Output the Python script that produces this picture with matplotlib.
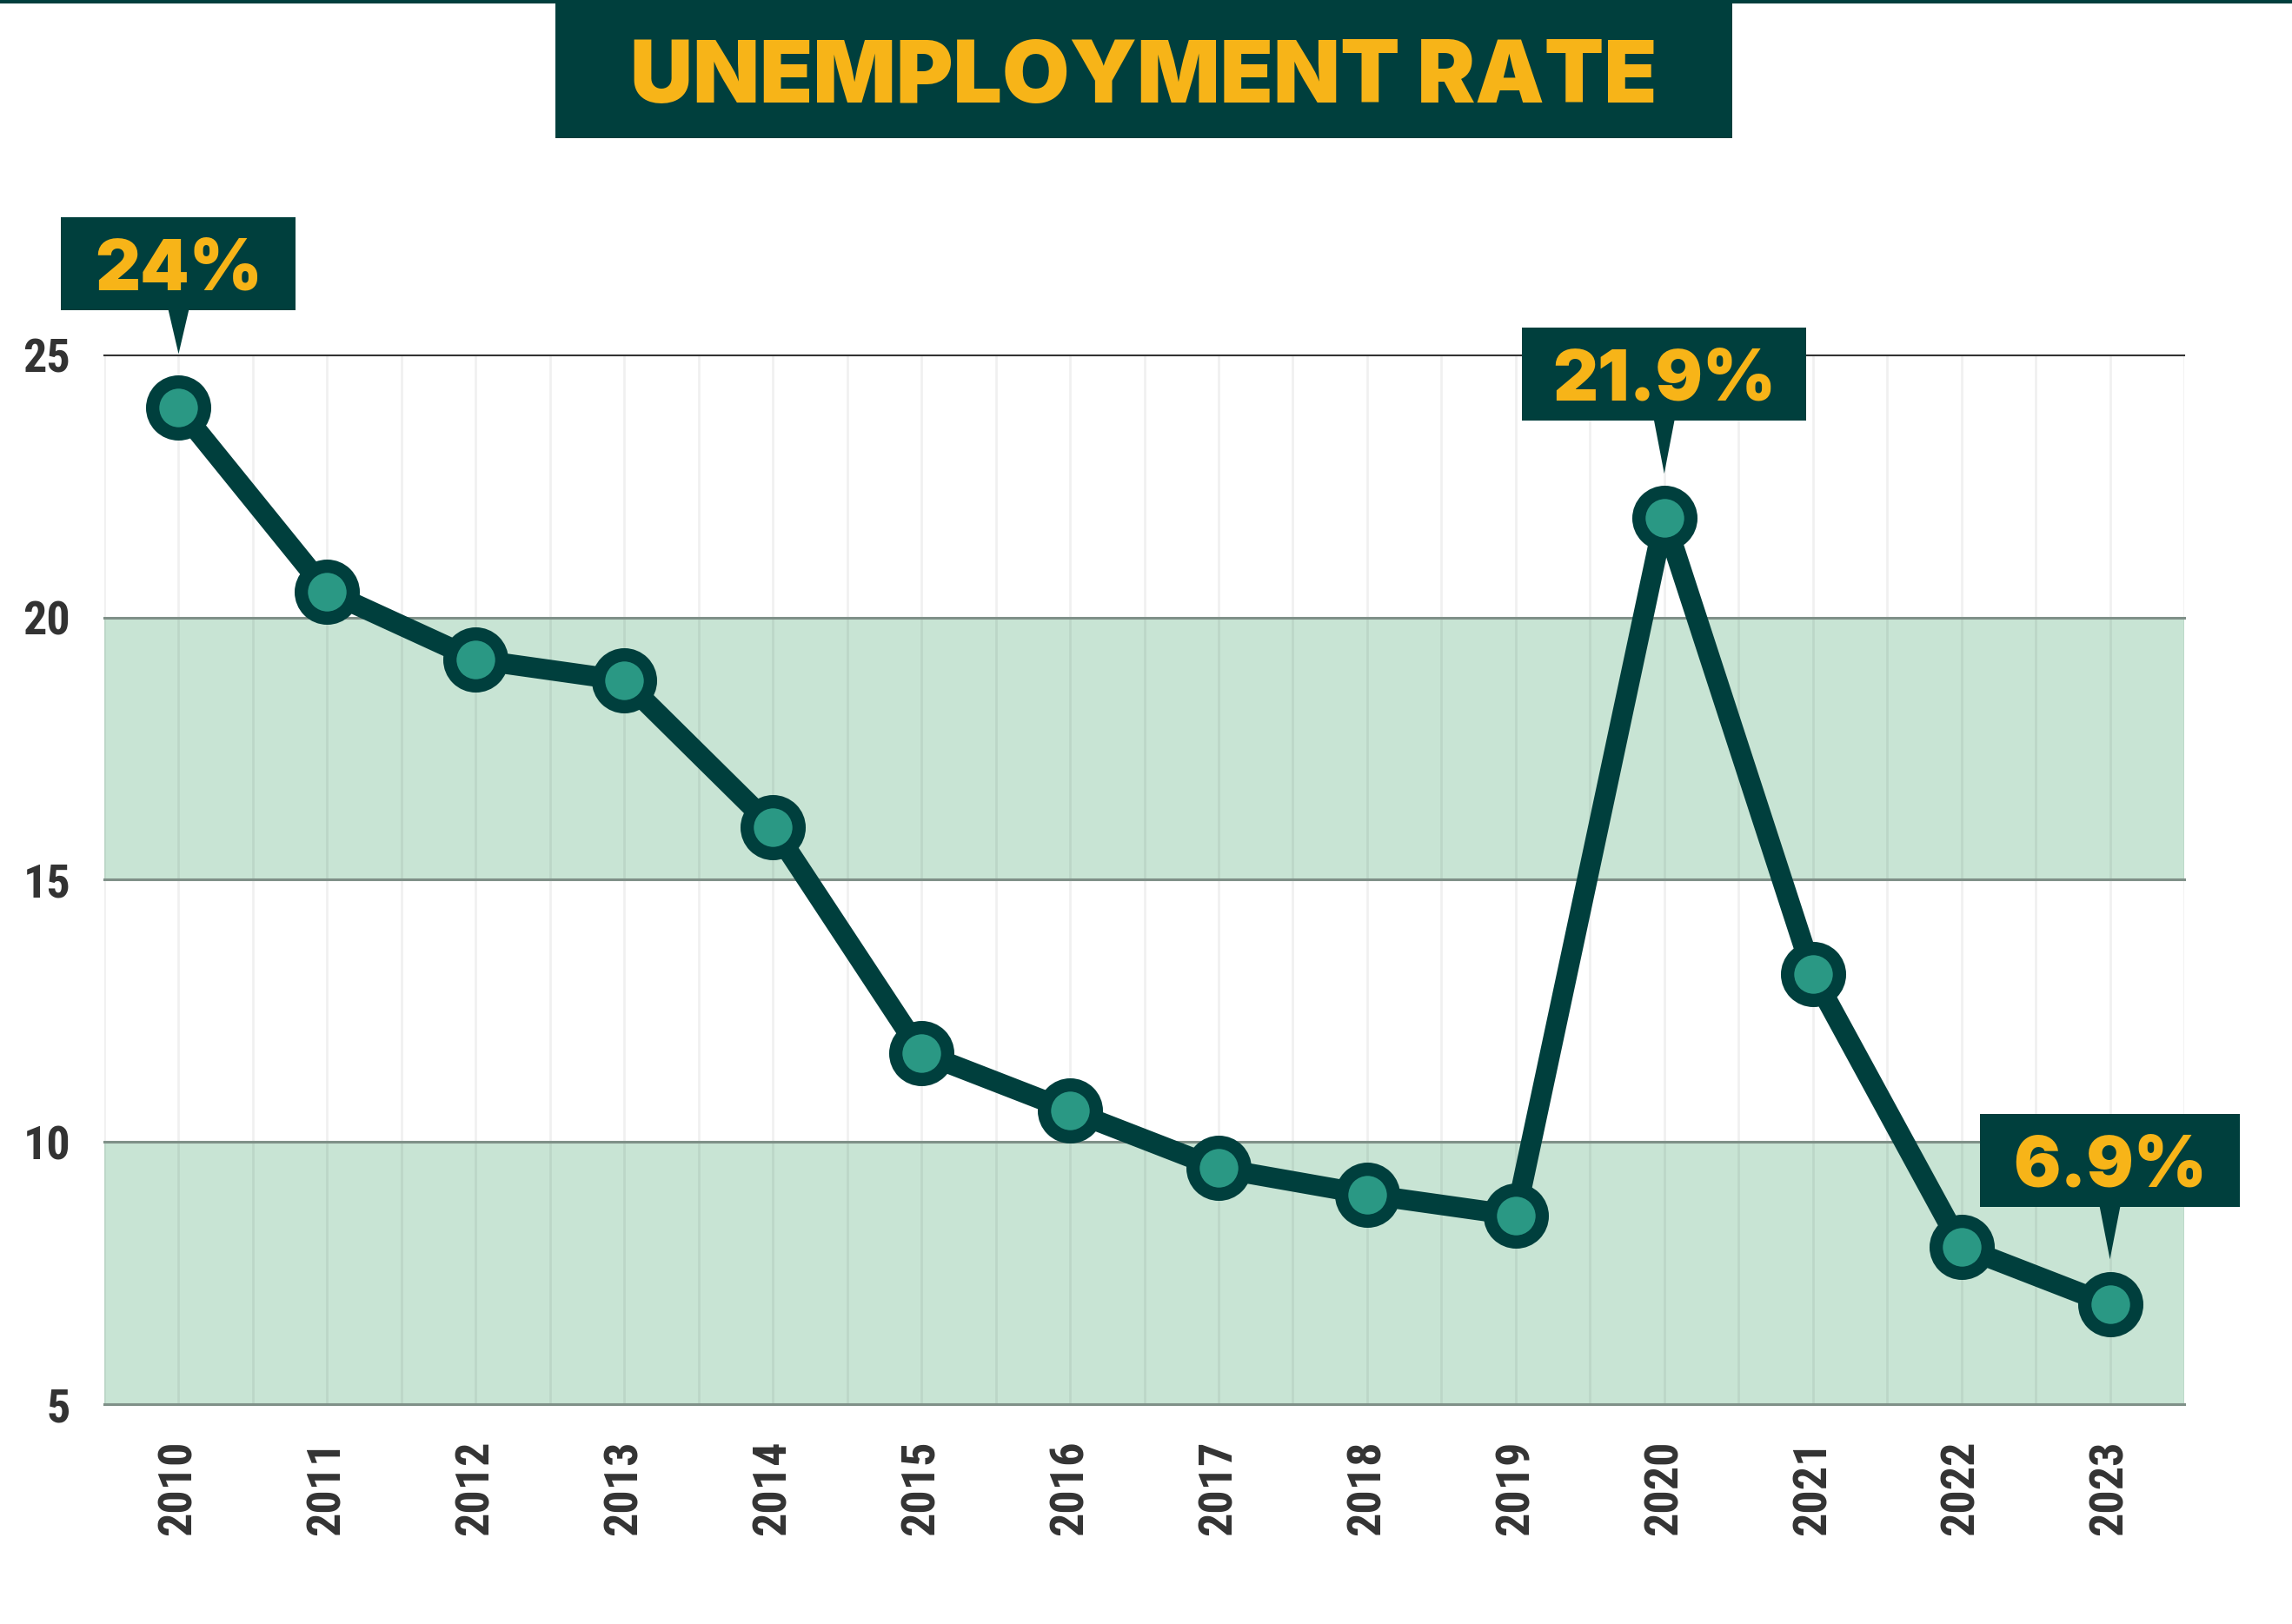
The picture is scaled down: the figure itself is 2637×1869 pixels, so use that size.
import numpy as np
import matplotlib
matplotlib.use('Agg')
import matplotlib.pyplot as plt
import matplotlib.transforms as mtransforms
from matplotlib.patches import Rectangle, Polygon

# Data
years = ['2010', '2011', '2012', '2013', '2014', '2015', '2016',
         '2017', '2018', '2019', '2020', '2021', '2022', '2023']
rates = [24.0, 20.5, 19.2, 18.8, 16.0, 11.7, 10.6, 9.5, 9.0, 8.6, 21.9, 13.2, 8.0, 6.9]
callout_years = ['2010', '2020', '2023']
callout_labels = ['24%', '21.9%', '6.9%']
y_ticks = [5, 10, 15, 20, 25]
band_ranges = [(5, 10), (15, 20)]

# Colours
DARK = '#003f3d'
TEAL = '#2a9884'
YELLOW = '#f7b418'
BAND = '#c8e4d4'
GRID = '#7f9088'
TICK = '#333333'

W, H = 2637, 1869
fig = plt.figure(figsize=(W / 100, H / 100), dpi=100)
fig.patch.set_facecolor('white')
ax = fig.add_axes([120 / W, 1 - 1616 / H, (2513 - 120) / W, (1616 - 409) / H])

x = np.arange(len(years))

# green bands and grid
for lo, hi in band_ranges:
    ax.axhspan(lo, hi, color=BAND, lw=0, zorder=0)
for xv in np.arange(-0.5, len(years), 0.5):
    ax.axvline(xv, color='black', alpha=0.06, lw=2, zorder=1)
for yv in y_ticks:
    if yv == max(y_ticks):
        ax.axhline(yv, color='#333333', lw=1.5, zorder=2, clip_on=False)
    else:
        ax.axhline(yv, color=GRID, lw=2.2, zorder=2, clip_on=False)

# the line and markers
ax.plot(x, rates, color=DARK, lw=17, zorder=3, solid_joinstyle='round')
ax.plot(x, rates, ls='none', marker='o', ms=43, mfc=TEAL, mec=DARK, mew=11,
        zorder=4, clip_on=False)

ax.set_xlim(-0.5, len(years) - 0.5)
ax.set_ylim(min(y_ticks), max(y_ticks))
for s in ax.spines.values():
    s.set_visible(False)

ax.set_xticks(x, years, rotation=90)
ax.set_yticks(y_ticks, [str(v) for v in y_ticks])
for lab in ax.get_xticklabels() + ax.get_yticklabels():
    lab.set_fontfamily('Roboto Condensed')
    lab.set_fontweight('bold')
    lab.set_fontsize(39)
    lab.set_color(TICK)
ax.tick_params(axis='x', length=0, pad=30)
ax.tick_params(axis='y', length=0, pad=28)

# callout boxes (sizes in pixels, relative to the point)
box_w = {'24%': 270, '21.9%': 327, '6.9%': 299}
tip_gap = {'24%': 62, '21.9%': 51, '6.9%': 52}
box_h = 107
box_dy = 166
for yr, lab in zip(callout_years, callout_labels):
    i = years.index(yr)
    t = mtransforms.Affine2D() + mtransforms.ScaledTranslation(i, rates[i], ax.transData)
    w = box_w[lab]
    bottom = box_dy - box_h / 2
    ax.add_patch(Rectangle((-w / 2, bottom), w, box_h, transform=t,
                           facecolor=DARK, lw=0, zorder=6, clip_on=False))
    ax.add_patch(Polygon([(-12, bottom + 1), (12, bottom + 1), (0, tip_gap[lab])],
                         closed=True, transform=t, facecolor=DARK, lw=0,
                         zorder=6, clip_on=False))
    ax.text(0, box_dy - 30, lab, transform=t, ha='center', va='baseline',
            fontsize=58, fontfamily='Inter', fontweight=900, color=YELLOW,
            zorder=7, clip_on=False)

# title box and top rule
fig.add_artist(Rectangle((0, 1 - 4 / H), 1, 4 / H, transform=fig.transFigure,
                         facecolor=DARK, lw=0))
fig.add_artist(Rectangle((639 / W, 1 - 159 / H), (1993 - 639) / W, 159 / H,
                         transform=fig.transFigure, facecolor=DARK, lw=0))
fig.text(1316 / W, 1 - 118 / H, 'UNEMPLOYMENT RATE', ha='center', va='baseline',
         fontsize=72, fontfamily='Inter', fontweight=900, color=YELLOW)

fig.savefig('out.png', dpi=100)
